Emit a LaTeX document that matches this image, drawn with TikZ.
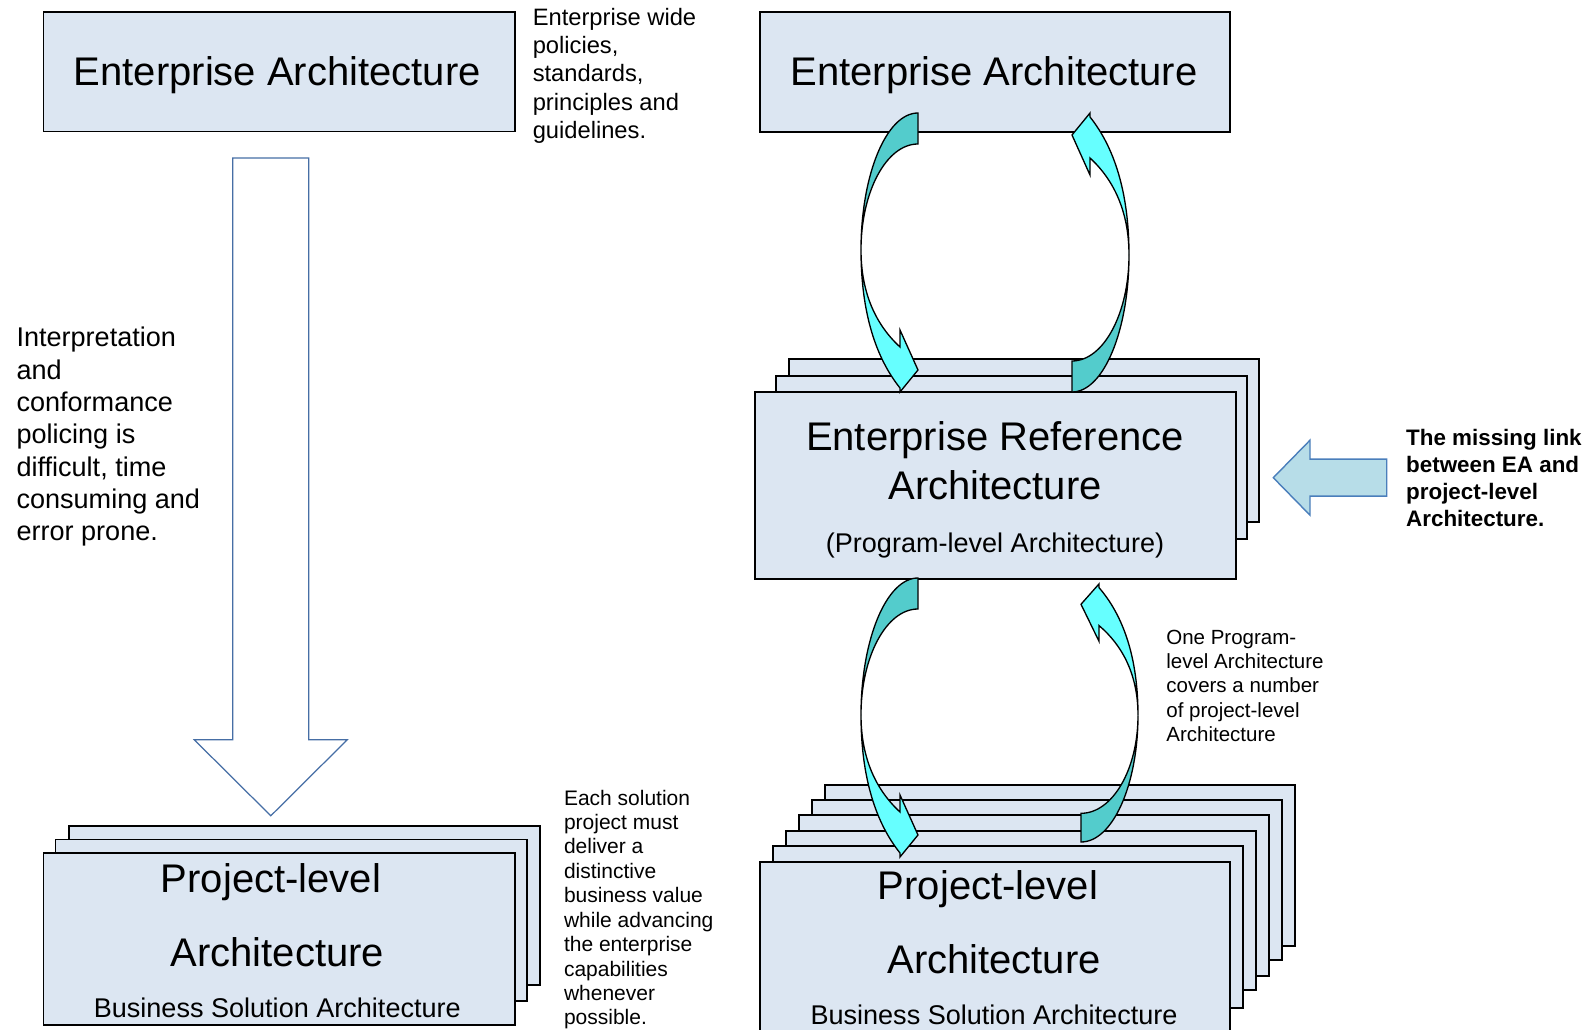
\documentclass[tikz,border=0pt]{standalone}
\usepackage{fontspec}
\setmainfont{Liberation Sans}
\definecolor{boxfill}{RGB}{220,230,242}
\definecolor{ribdarkc}{RGB}{83,204,204}
\definecolor{riblightc}{RGB}{102,255,255}
\definecolor{bigarrowline}{RGB}{70,110,165}
\definecolor{linkfill}{RGB}{183,221,232}
\definecolor{linkline}{RGB}{74,126,187}

% one sheet of architecture: name, left, top, right, bottom (pixel units)
\newcommand{\archsheet}[5]{%
  \node[archbox, anchor=north west,
        minimum width={(#4-#2)*0.02cm}, minimum height={(#5-#3)*0.02cm}]
        (#1) at (#2,#3) {};}

% twisted ribbon arrow; local origin = upper corner of the tail
\newcommand{\ribbonarrow}{%
  \filldraw[ribdark] (0,0) .. controls (-31.5,0) and (-57,61.4) .. (-57,137)
     .. controls (-57,78.5) and (-31.5,31) .. (0,31) -- cycle;
  \filldraw[riblight] (-57,137) .. controls (-57,200) and (-42,245) .. (-18,275)
     -- (-18,279) -- (0,257) -- (-18,217) -- (-18,234)
     .. controls (-42,212) and (-57,180) .. (-57,137) -- cycle;}

\begin{document}
\begin{tikzpicture}[x=0.02cm, y=-0.02cm,
  archbox/.style={draw=black, line width=0.85pt, fill=boxfill, inner sep=0pt, outer sep=0pt},
  ribdark/.style={draw=black, line width=0.75pt, fill=ribdarkc, line join=miter},
  riblight/.style={draw=black, line width=0.75pt, fill=riblightc, line join=miter},
  bigarrow/.style={draw=bigarrowline, line width=0.7pt, fill=white},
  linkarrow/.style={draw=linkline, line width=0.8pt, fill=linkfill},
  bigtxt/.style={inner sep=0pt, font=\fontsize{22.76}{27}\selectfont},
  midtxt/.style={inner sep=0pt, font=\fontsize{15.4}{18}\selectfont},
  note/.style={inner sep=0pt, anchor=north west, align=left}]
\useasboundingbox (0,0) rectangle (1587,1030);

% ---------- left column ----------
\archsheet{eaL}{43.5}{12}{515}{131.6}
\node[bigtxt] (eaLt) at (277.3,75.2) {Enterprise Architecture};

\node[note, font=\fontsize{13.5}{16.1}\selectfont] (policies) at (532.4,7.8)
  {Enterprise wide\\policies,\\standards,\\principles and\\guidelines.};

\draw[bigarrow] (232.8,157.9) -- (308.7,157.9) -- (308.7,739.8) -- (347.2,739.8)
  -- (270.8,815.8) -- (194.3,739.8) -- (232.8,739.8) -- cycle;

\node[note, font=\fontsize{15.4}{18.4}\selectfont] (interp) at (16.2,327)
  {Interpretation\\and\\conformance\\policing is\\difficult, time\\consuming and\\error prone.};

\archsheet{plL3}{69}{826}{540}{985}
\archsheet{plL2}{55.5}{839.5}{527}{1001}
\archsheet{plL1}{43.5}{853}{515}{1025}
\node[bigtxt] (plLa) at (271,882) {Project-level};
\node[bigtxt] (plLb) at (277.3,952.4) {Architecture};
\node[midtxt] (plLc) at (277.3,1008) {Business Solution Architecture};

\node[note, font=\fontsize{11.95}{13.9}\selectfont] (eachsol) at (563.7,789.5)
  {Each solution\\project must\\deliver a\\distinctive\\business value\\while advancing\\the enterprise\\capabilities\\whenever\\possible.};

% ---------- right column ----------
\archsheet{eaR}{760}{12}{1230}{132}
\node[bigtxt] (eaRt) at (994,75.2) {Enterprise Architecture};

\archsheet{era3}{789}{359}{1259}{522}
\archsheet{era2}{776}{376}{1247}{539}
\archsheet{era1}{755}{392}{1236}{579}
\node[bigtxt] (eraa) at (995,440) {Enterprise Reference};
\node[bigtxt] (erab) at (995,485) {Architecture};
\node[midtxt] (erac) at (995,546) {(Program-level Architecture)};

\archsheet{plR6}{825}{785}{1295}{946}
\archsheet{plR5}{812}{800}{1282}{960}
\archsheet{plR4}{799}{815}{1269}{976}
\archsheet{plR3}{786}{831}{1256}{990}
\archsheet{plR2}{773}{846}{1243}{1008}
\archsheet{plR1}{760}{862}{1230}{1045}
\node[bigtxt] (plRa) at (988,889.5) {Project-level};
\node[bigtxt] (plRb) at (994,959.5) {Architecture};
\node[midtxt] (plRc) at (994,1015.2) {Business Solution Architecture};

% ribbon arrows between the levels
\begin{scope}[shift={(918,113)}] \ribbonarrow \end{scope}
\begin{scope}[shift={(1072,392)}, rotate=180] \ribbonarrow \end{scope}
\begin{scope}[shift={(918,578)}] \ribbonarrow \end{scope}
\begin{scope}[shift={(1081,842)}, rotate=180, yscale=0.925] \ribbonarrow \end{scope}

\node[note, font=\fontsize{11.67}{13.8}\selectfont] (covers) at (1166,629.8)
  {One Program-\\level Architecture\\covers a number\\of project-level\\Architecture};

% missing-link pointer
\draw[linkarrow] (1386.7,459.2) -- (1310,459.2) -- (1310,440.2) -- (1273.3,477.7)
  -- (1310,515.2) -- (1310,496.2) -- (1386.7,496.2) -- cycle;
\node[note, font=\fontsize{12.75}{15.5}\selectfont\bfseries] (missing) at (1405.8,428.5)
  {The missing link\\between EA and\\project-level\\Architecture.};
\end{tikzpicture}
\end{document}
